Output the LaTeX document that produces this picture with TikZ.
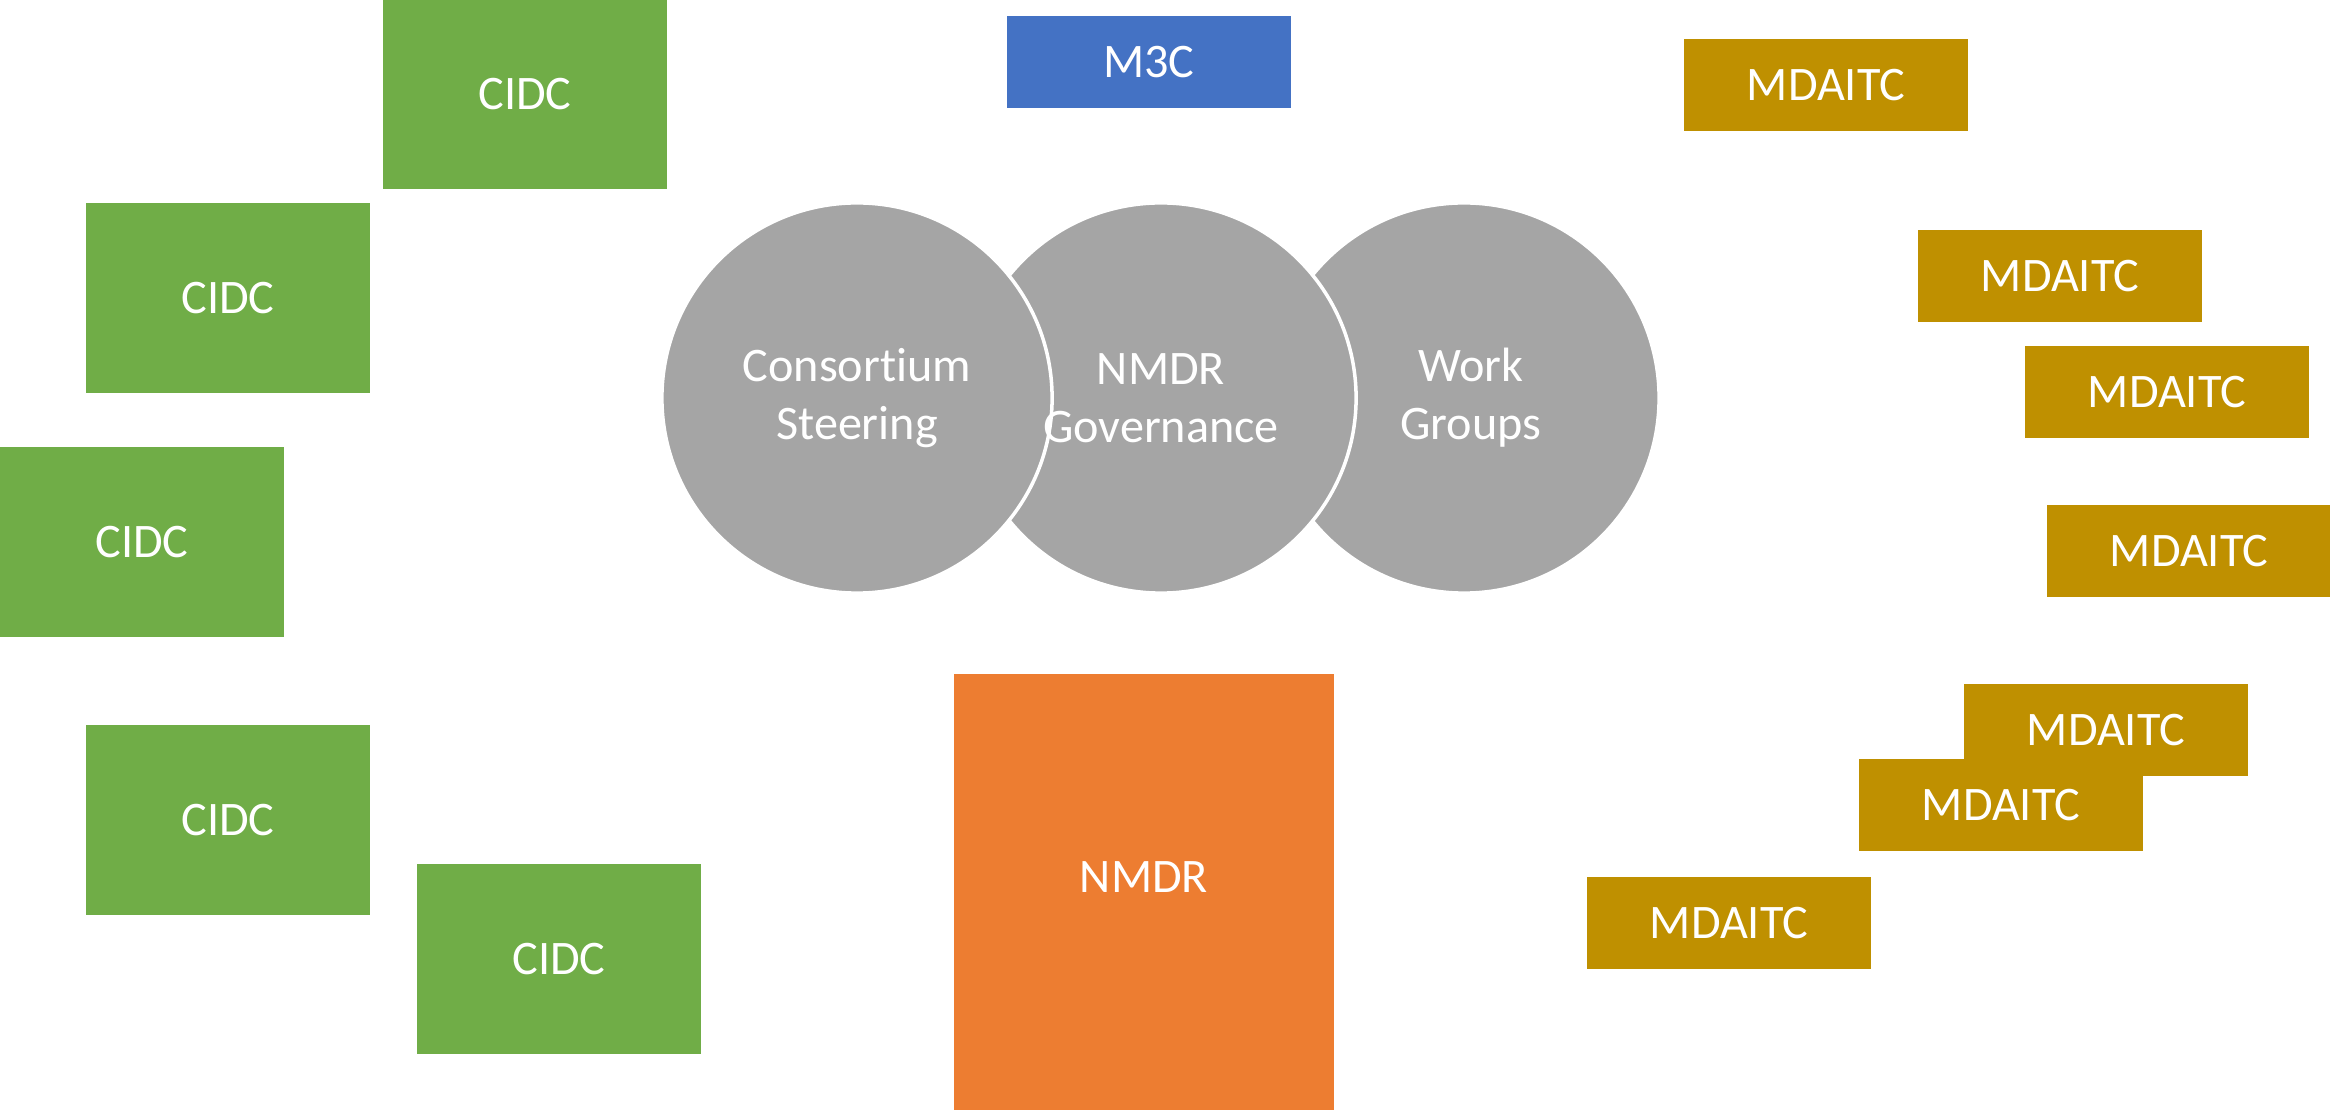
\documentclass[tikz,border=0pt]{standalone}
\usepackage{fontspec}
\setmainfont{Carlito}[Ligatures=NoCommon]
\usepackage{tikz}
\usetikzlibrary{shapes,positioning}
\definecolor{cidcgreen}{HTML}{70AD47}
\definecolor{mcblue}{HTML}{4472C4}
\definecolor{nmdrorange}{HTML}{ED7D31}
\definecolor{mdgold}{HTML}{BF9000}
\definecolor{circgray}{HTML}{A5A5A5}
\tikzstyle{box} = [rectangle, inner sep=0pt, text=white, align=center, font=\fontsize{13.7}{16.5}\selectfont]

\begin{document}
\begin{tikzpicture}[x=0.01cm, y=-0.01cm,
	cidc/.style={box, fill=cidcgreen, minimum width=2.84cm, minimum height=1.89cm},
	mdaitc/.style={box, fill=mdgold, minimum width=2.84cm, minimum height=0.92cm},
	circ/.style={circle, fill=circgray, draw=white, line width=1pt, minimum size=3.9cm, inner sep=0pt},
	circtext/.style={box}]
			
			\useasboundingbox (0,0) rectangle (2330,1110);
			
			% GOVERNANCE CIRCLES
			
			\node [circ] (workgroups) at (1464,398) {};
			\node [circ] (governance) at (1161,398) {};
			\node [circ] (steering) at (857,398) {};
			
			\node [circtext] (steeringtext) at (steering) {Consortium\\Steering};
			\node [circtext] (governancetext) at (governance) {NMDR\\Governance};
			\node [circtext] (workgroupstext) at ([xshift=2pt]workgroups.center) {Work\\Groups};
			
			% TOP AND BOTTOM
			
			\node [box, fill=mcblue, minimum width=2.84cm, minimum height=0.92cm] (m3c) at (1149,62) {M3C};
			\node [box, fill=nmdrorange, minimum width=3.80cm, minimum height=4.35cm] (nmdr) at (1144,892) {};
			\node [box] (nmdrtext) at (1144,877) {NMDR};
			
			% CIDC
			
			\node [cidc] (cidcA) at (525,94) {CIDC};
			\node [cidc] (cidcB) at (228,298) {CIDC};
			\node [cidc] (cidcC) at (142,542) {CIDC};
			\node [cidc] (cidcD) at (228,820) {CIDC};
			\node [cidc] (cidcE) at (559,959) {CIDC};
			
			% MDAITC
			
			\node [mdaitc] (mdaitcA) at (1826,85) {MDAITC};
			\node [mdaitc] (mdaitcB) at (2060,276) {MDAITC};
			\node [mdaitc] (mdaitcC) at (2167,392) {MDAITC};
			\node [mdaitc] (mdaitcD) at (2189,551) {MDAITC};
			\node [mdaitc] (mdaitcE) at (2106,730) {MDAITC};
			\node [mdaitc] (mdaitcF) at (2001,805) {MDAITC};
			\node [mdaitc] (mdaitcG) at (1729,923) {MDAITC};
			
			\end{tikzpicture}
\end{document}
